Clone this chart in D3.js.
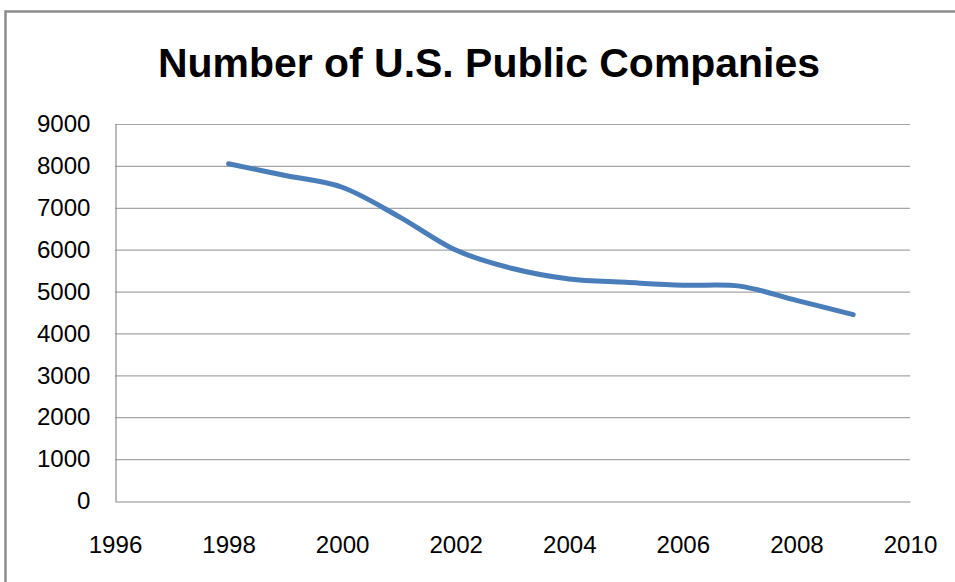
<!DOCTYPE html>
<html><head><meta charset="utf-8">
<script src="https://cdn.jsdelivr.net/npm/d3@7"></script>
<style>body{margin:0;background:#fff;} svg{display:block;}</style>
</head><body>
<svg id="chart" width="955" height="582"></svg>
<script>
const title = "Number of U.S. Public Companies";
const years = [1998, 1999, 2000, 2001, 2002, 2003, 2004, 2005, 2006, 2007, 2008, 2009];
const companies = [8050, 7770, 7490, 6790, 5990, 5550, 5300, 5220, 5150, 5130, 4790, 4450];
const xTicks = [1996, 1998, 2000, 2002, 2004, 2006, 2008, 2010];
const yTicks = [0, 1000, 2000, 3000, 4000, 5000, 6000, 7000, 8000, 9000];

const svg = d3.select("#chart");
const font = "'Liberation Sans', Arial, sans-serif";

// outer chart border
svg.append("rect").attr("x", 5.5).attr("y", 11.5).attr("width", 970).attr("height", 600)
  .attr("fill", "#fff").attr("stroke", "#8c8c8c").attr("stroke-width", 2.5);

const x = d3.scaleLinear().domain([1996, 2010]).range([115, 910]);
const y = d3.scaleLinear().domain([0, 9000]).range([501, 124]);

// gridlines
svg.append("g").selectAll("line").data(yTicks.filter(d => d > 0)).join("line")
  .attr("x1", x(1996)).attr("x2", x(2010))
  .attr("y1", d => y(d) + 0.5).attr("y2", d => y(d) + 0.5)
  .attr("stroke", "#a6a6a6").attr("stroke-width", 1.2);

// axes
const yAxis = svg.append("g").attr("transform", `translate(${x(1996) + 0.5},0)`)
  .call(d3.axisLeft(y).tickValues(yTicks).tickFormat(d3.format("d")).tickSize(0).tickPadding(25));
const xAxis = svg.append("g").attr("transform", `translate(0,${y(0) + 0.5})`)
  .call(d3.axisBottom(x).tickValues(xTicks).tickFormat(d3.format("d")).tickSize(0).tickPadding(34));
[yAxis, xAxis].forEach(a => {
  a.select(".domain").attr("stroke", "#8c8c8c").attr("stroke-width", 1.2);
  a.selectAll("text").attr("font-family", font).attr("font-size", 24).attr("fill", "#000")
    .attr("textLength", d => String(d).length * 13.4).attr("lengthAdjust", "spacingAndGlyphs");
});

// line
const line = d3.line().x((d, i) => x(years[i])).y(d => y(d)).curve(d3.curveCardinal.tension(0));
svg.append("path").datum(companies).attr("d", line)
  .attr("fill", "none").attr("stroke", "#4a7ebb").attr("stroke-width", 5).attr("stroke-linecap", "round");

// title
svg.append("text").attr("x", 489).attr("y", 77).attr("text-anchor", "middle")
  .attr("font-family", font).attr("font-weight", "bold").attr("font-size", 41)
  .attr("textLength", 662).attr("lengthAdjust", "spacingAndGlyphs")
  .text(title);
</script>
</body></html>
